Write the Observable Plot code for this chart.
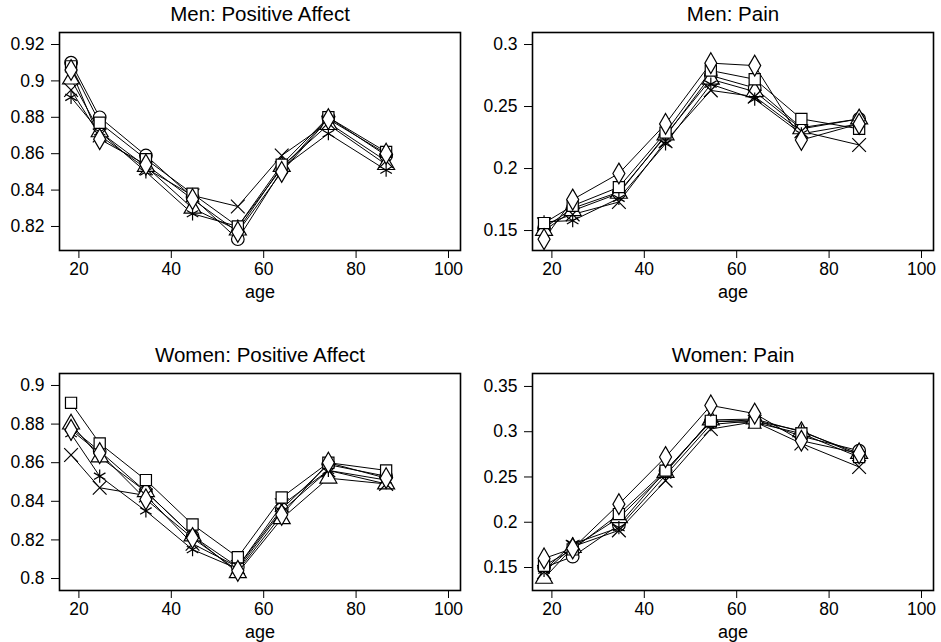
<!DOCTYPE html>
<html><head><meta charset="utf-8">
<script src="https://cdn.jsdelivr.net/npm/d3@7"></script>
<script src="https://cdn.jsdelivr.net/npm/@observablehq/plot@0.6"></script>
<style>
body{margin:0;background:#fff;}
#chart{position:relative;width:941px;height:642px;font-family:"Liberation Sans",Arial,Helvetica,sans-serif;background:#fff;}
#chart > div{position:absolute;}
</style></head><body><div id="chart"></div>
<script>
// Age group positions (x)
const ages = [18.3, 24.5, 34.5, 44.6, 54.4, 63.9, 74, 86.5];
// Series (marker) keys
const seriesKeys = ["circle", "square", "diamond", "triangle", "times", "asterisk"];
// Order in which markers are stacked (last on top)
const drawOrder = ["circle", "triangle", "times", "asterisk", "square", "diamond"];
const xTicks = [20, 40, 60, 80, 100];

// Men: Positive Affect (rows follow seriesKeys)
const menPositiveAffect = [
  [0.910, 0.880, 0.859, 0.836, 0.813, 0.851, 0.880, 0.859],
  [0.908, 0.877, 0.857, 0.838, 0.820, 0.854, 0.880, 0.861],
  [0.906, 0.868, 0.854, 0.835, 0.817, 0.850, 0.879, 0.860],
  [0.901, 0.872, 0.853, 0.830, 0.818, 0.853, 0.876, 0.854],
  [0.895, 0.870, 0.852, 0.837, 0.831, 0.859, 0.877, 0.856],
  [0.891, 0.872, 0.850, 0.827, 0.820, 0.852, 0.871, 0.851]
];
const menPositiveAffectTicks = [0.82, 0.84, 0.86, 0.88, 0.9, 0.92];

// Men: Pain
const menPain = [
  [0.152, 0.168, 0.181, 0.226, 0.275, 0.265, 0.233, 0.240],
  [0.156, 0.170, 0.185, 0.229, 0.279, 0.272, 0.240, 0.232],
  [0.143, 0.175, 0.196, 0.236, 0.285, 0.283, 0.223, 0.236],
  [0.150, 0.166, 0.180, 0.227, 0.272, 0.262, 0.232, 0.240],
  [0.155, 0.163, 0.173, 0.222, 0.263, 0.258, 0.230, 0.219],
  [0.157, 0.158, 0.176, 0.220, 0.268, 0.256, 0.228, 0.236]
];
const menPainTicks = [0.15, 0.2, 0.25, 0.3];

// Women: Positive Affect
const womenPositiveAffect = [
  [0.878, 0.866, 0.845, 0.822, 0.806, 0.836, 0.859, 0.853],
  [0.891, 0.870, 0.851, 0.828, 0.811, 0.842, 0.860, 0.856],
  [0.877, 0.865, 0.841, 0.821, 0.804, 0.833, 0.860, 0.852],
  [0.880, 0.863, 0.845, 0.822, 0.803, 0.831, 0.852, 0.849],
  [0.864, 0.847, 0.843, 0.818, 0.806, 0.838, 0.856, 0.849],
  [0.875, 0.853, 0.835, 0.815, 0.805, 0.835, 0.856, 0.851]
];
const womenPositiveAffectTicks = [0.8, 0.82, 0.84, 0.86, 0.88, 0.9];

// Women: Pain
const womenPain = [
  [0.150, 0.162, 0.197, 0.257, 0.311, 0.313, 0.295, 0.279],
  [0.152, 0.170, 0.209, 0.257, 0.312, 0.310, 0.298, 0.272],
  [0.160, 0.171, 0.220, 0.272, 0.329, 0.320, 0.290, 0.276],
  [0.138, 0.172, 0.205, 0.255, 0.313, 0.314, 0.300, 0.276],
  [0.145, 0.173, 0.191, 0.246, 0.303, 0.311, 0.287, 0.261],
  [0.147, 0.176, 0.194, 0.252, 0.308, 0.312, 0.301, 0.274]
];
const womenPainTicks = [0.15, 0.2, 0.25, 0.3, 0.35];

const font = '"Liberation Sans", Arial, Helvetica, sans-serif';

// Marker shapes (hollow, Stata-like)
const rad = size => Math.sqrt(size / Math.PI);
const symSquare = {draw(c, size) { const r = rad(size) * 0.92; c.rect(-r, -r, 2 * r, 2 * r); }};
const symDiamond = {draw(c, size) { const r = rad(size) * 1.1; c.moveTo(0, -r); c.lineTo(r, 0); c.lineTo(0, r); c.lineTo(-r, 0); c.closePath(); }};
const symTriangle = {draw(c, size) { const r = rad(size) * 1.05; const h = r * Math.sqrt(3) / 2;
  c.moveTo(0, -r); c.lineTo(h, r * 0.6); c.lineTo(-h, r * 0.6); c.closePath(); }};
const symTimes = {draw(c, size) { const r = rad(size) * 0.9; c.moveTo(-r, -r); c.lineTo(r, r); c.moveTo(r, -r); c.lineTo(-r, r); }};
const symAsterisk = {draw(c, size) { const r = rad(size) * 1.0; const a = r * Math.sin(Math.PI / 3), b = r * Math.cos(Math.PI / 3);
  c.moveTo(0, -r); c.lineTo(0, r); c.moveTo(-a, -b); c.lineTo(a, b); c.moveTo(-a, b); c.lineTo(a, -b); }};
const seriesSymbols = ["circle", symSquare, symDiamond, symTriangle, symTimes, symAsterisk];

function panel(opts) {
  const rows = opts.values.flatMap((vals, i) =>
    vals.map((v, j) => ({series: seriesKeys[i], age: ages[j], value: v})));
  const dotRows = drawOrder.flatMap(k => rows.filter(d => d.series === k));
  const chart = Plot.plot({
    width: opts.width,
    height: 321,
    marginLeft: opts.marginLeft,
    marginRight: opts.marginRight,
    marginTop: opts.marginTop,
    marginBottom: opts.marginBottom,
    style: {fontSize: "17.5px", fontFamily: font, color: "black", background: "white", overflow: "visible"},
    x: {domain: [15.8, 102.6], ticks: xTicks, tickSize: 8, tickPadding: 4, label: null},
    y: {domain: opts.yDomain, ticks: opts.yTicks, tickSize: 8, tickPadding: 7, tickFormat: d => String(d), label: null},
    symbol: {domain: seriesKeys, range: seriesSymbols},
    marks: [
      Plot.line(rows, {x: "age", y: "value", z: "series", stroke: "black", strokeWidth: 1}),
      Plot.dot(dotRows, {x: "age", y: "value", symbol: "series", r: 6.3, stroke: "black", fill: "white", strokeWidth: 1.2}),
      Plot.frame({stroke: "black", strokeWidth: 1.6}),
      Plot.text([opts.title], {frameAnchor: "top", dy: -18, lineAnchor: "middle", fontSize: 20.5}),
      Plot.text(["age"], {frameAnchor: "bottom", dy: 42, lineAnchor: "middle", fontSize: 18})
    ]
  });
  const wrap = document.createElement("div");
  wrap.style.left = opts.left + "px";
  wrap.style.top = opts.top + "px";
  wrap.appendChild(chart);
  document.getElementById("chart").appendChild(wrap);
}

panel({title: "Men: Positive Affect", values: menPositiveAffect, yDomain: [0.8068, 0.9266], yTicks: menPositiveAffectTicks,
  left: 0, top: 0, width: 470, marginLeft: 59, marginRight: 10, marginTop: 32, marginBottom: 71});
panel({title: "Men: Pain", values: menPain, yDomain: [0.1339, 0.3097], yTicks: menPainTicks,
  left: 470, top: 0, width: 471, marginLeft: 62, marginRight: 8, marginTop: 32, marginBottom: 71});
panel({title: "Women: Positive Affect", values: womenPositiveAffect, yDomain: [0.7938, 0.9062], yTicks: womenPositiveAffectTicks,
  left: 0, top: 321, width: 470, marginLeft: 59, marginRight: 10, marginTop: 52, marginBottom: 52});
panel({title: "Women: Pain", values: womenPain, yDomain: [0.1246, 0.3643], yTicks: womenPainTicks,
  left: 470, top: 321, width: 471, marginLeft: 62, marginRight: 8, marginTop: 52, marginBottom: 52});
</script></body></html>
